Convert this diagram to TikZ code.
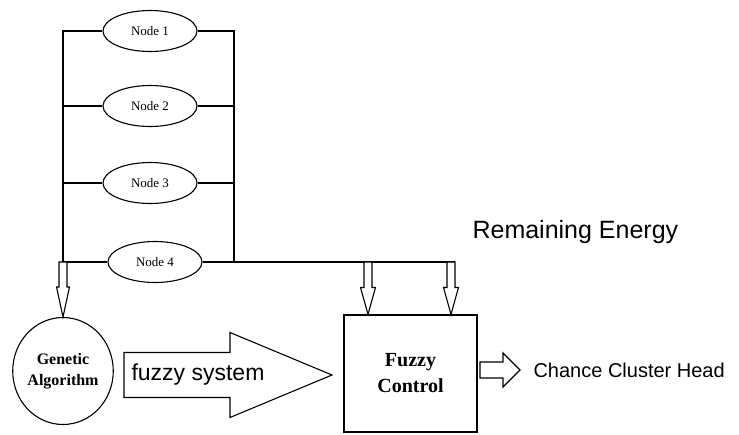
\documentclass[tikz,border=0pt]{standalone}
\usepackage{fontspec}
\setmainfont{Liberation Serif}
\newfontfamily\arialfont{Liberation Sans}
\usetikzlibrary{shapes.geometric}
\usetikzlibrary{calc}

\newcommand{\hollowright}[5]{%
    \draw[fill=white] ($(#1)+(0,-#4)$) -- ($(#2)+(-#3,-#4)$) -- ($(#2)+(-#3,-#5)$) -- (#2) -- ($(#2)+(-#3,#5)$) -- ($(#2)+(-#3,#4)$) -- ($(#1)+(0,#4)$) -- cycle;}
\newcommand{\hollowdown}[5]{%
    \draw[fill=white] ($(#1)+(-#4,0)$) -- ($(#2)+(-#4,-#3)$) -- ($(#2)+(-#5,-#3)$) -- (#2) -- ($(#2)+(#5,-#3)$) -- ($(#2)+(#4,-#3)$) -- ($(#1)+(#4,0)$) -- cycle;}

\begin{document}
\begin{tikzpicture}[x=1pt, y=-1pt, line width=1.1pt,
    sensor/.style={ellipse, draw=black, fill=white, minimum width=94pt, minimum height=41pt, inner sep=0pt, font=\fontsize{13}{13}\selectfont},
    label/.style={font=\arialfont\fontsize{#1}{#1}\selectfont, inner sep=0pt}]
    
    \useasboundingbox (0,0) rectangle (739,434);
    
    \node[sensor] at (150, 31) (n1) {Node 1};
    \node[sensor] at (150, 106) (n2) {Node 2};
    \node[sensor] at (150, 183) (n3) {Node 3};
    \node[sensor] at (155, 262) (n4) {Node 4};
    
    \node[ellipse, draw=black, minimum width=98pt, minimum height=107pt, inner sep=0pt, align=center, font=\bfseries\fontsize{16}{21}\selectfont] at (63, 371) (ga) {Genetic\\Algorithm};
    \node[rectangle, draw=black, minimum width=133pt, minimum height=117pt, align=center, font=\bfseries\fontsize{20}{26}\selectfont] at (410.5, 373.5) (fc) {Fuzzy\\Control};
    
    \coordinate (lt) at (63, 31);
    \coordinate (rt) at (234, 31);
    \coordinate (ea) at (455, 262);
    
    \draw (n1.west) -- (lt) |- (n4.west);
    \draw (n1.east) -- (rt) -- (rt |- n4.east);
    \draw (n4.east) -- (ea);
    \foreach \i in {2,3} {
        \draw (n\i.west) -- (n\i.west -| lt);
        \draw (n\i.east) -- (n\i.east -| rt);
    }
    
    \coordinate (e1) at (368, 262);
    \coordinate (e2) at (451, 262);
    \coordinate (f1) at (e1 |- fc.north);
    \coordinate (f2) at (e2 |- fc.north);
    \hollowdown{e1}{f1}{27}{4}{7.5}
    \hollowdown{e2}{f2}{27}{4}{7.5}
    
    \coordinate (g1) at (lt |- n4.west);
    \coordinate (g2) at (g1 |- ga.north);
    \hollowdown{g1}{g2}{30}{4}{6.5}
    
    \coordinate (s1) at (124, 375);
    \coordinate (s2) at (332, 375);
    \hollowright{s1}{s2}{102}{22.5}{42.5}
    \node[label=23, anchor=west] at (131, 375) (fs) {fuzzy system};
    
    \coordinate (c1) at (480, 370);
    \coordinate (c2) at (520, 370);
    \hollowright{c1}{c2}{17}{8}{17}
    \node[label=20, anchor=west] at (533, 370) (ch) {Chance Cluster Head};
    
    \node[label=25, anchor=west] at (472, 232) (re) {Remaining Energy};
    
\end{tikzpicture}
\end{document}
